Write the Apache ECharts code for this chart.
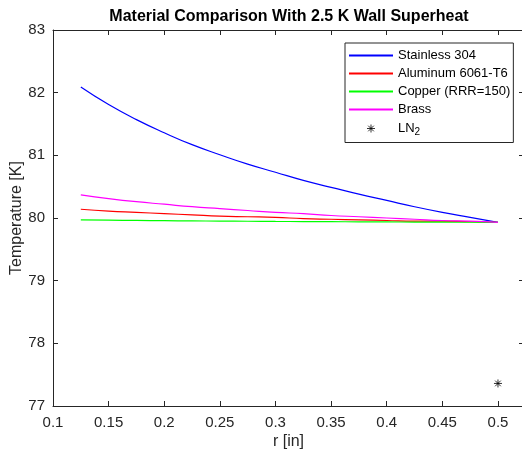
<!DOCTYPE html>
<html>
<head>
<meta charset="utf-8">
<script src="https://cdn.jsdelivr.net/npm/echarts@6/dist/echarts.min.js"></script>
<style>html,body{margin:0;padding:0;background:#fff}#c{width:522px;height:454px}</style>
</head>
<body>
<div id="c"></div>
<script>
const radius = [0.125,0.15,0.175,0.2,0.225,0.25,0.275,0.3,0.325,0.35,0.375,0.4,0.425,0.45,0.475,0.5];
const stainless = [82.09,81.81,81.57,81.36,81.17,81.01,80.86,80.73,80.60,80.49,80.38,80.28,80.18,80.09,80.01,79.93];
const aluminum  = [80.14,80.11,80.09,80.07,80.05,80.03,80.02,80.01,79.99,79.98,79.97,79.96,79.95,79.95,79.94,79.93];
const copper    = [79.970,79.966,79.961,79.957,79.954,79.951,79.948,79.945,79.943,79.941,79.939,79.937,79.935,79.933,79.932,79.93];
const brass     = [80.37,80.31,80.26,80.22,80.18,80.15,80.12,80.09,80.07,80.04,80.02,80.00,79.98,79.96,79.95,79.93];
const ln2Point  = [0.5, 77.36];
const seriesNames = ['Stainless 304','Aluminum 6061-T6','Copper (RRR=150)','Brass','LN2'];
const seriesColors = ['#0000ff','#ff0000','#00ff00','#ff00ff','#000000'];
const xTicks = [0.1,0.15,0.2,0.25,0.3,0.35,0.4,0.45,0.5];

const FONT = '"Liberation Sans", Arial, Helvetica, sans-serif';
const AX = '#262626';
const STAR = 'path://M-1.75,-1.75M1.75,1.75M0,-1L0,1M-1,0L1,0M-0.7,-0.7L0.7,0.7M-0.7,0.7L0.7,-0.7';
const pairs = vals => radius.map((r,i)=>[r, vals[i]]);
const lineSeries = (i, vals) => ({
  name:seriesNames[i], type:'line', data:pairs(vals), symbol:'circle', showSymbol:false, smooth:true,
  lineStyle:{color:seriesColors[i], width:1.2}, itemStyle:{color:seriesColors[i]}, z:2
});
const xFmt = v => xTicks.some(t=>Math.abs(t-v)<1e-9) ? String(+v.toFixed(2)) : '';
const common = {
  axisLine:{show:true, lineStyle:{color:AX, width:1}},
  axisTick:{show:true, inside:true, length:5, lineStyle:{color:AX}},
  splitLine:{show:false}
};
const legendData = seriesNames.map((n,i)=> i<4
  ? {name:n, itemStyle:{opacity:0}}
  : {name:n, icon:STAR, itemStyle:{color:'#000', borderColor:'#000', borderWidth:1}});
const chart = echarts.init(document.getElementById('c'), null, {renderer:'canvas'});
chart.setOption({
  animation:false,
  backgroundColor:'#fff',
  title:{text:'Material Comparison With 2.5 K Wall Superheat', left:284, top:4, textAlign:'center',
    textStyle:{fontFamily:FONT, fontSize:16, fontWeight:'bold', color:'#000'}},
  grid:{left:53, top:30, right:-2, bottom:48, containLabel:false, outerBoundsMode:'none'},
  legend:{
    orient:'vertical', left:345, top:43, itemWidth:44, itemHeight:14, itemGap:5,
    padding:[6,3,5,3], backgroundColor:'#fff', borderColor:AX, borderWidth:1,
    data:legendData,
    formatter: n => n==='LN2' ? 'LN{sub|2}' : n,
    textStyle:{fontFamily:FONT, fontSize:13, color:'#000',
      rich:{sub:{fontFamily:FONT, fontSize:10, color:'#000', padding:[8,0,0,0]}}}
  },
  xAxis:[
    Object.assign({type:'value', position:'bottom', min:0.1, max:0.5234, interval:0.05,
      name:'r [in]', nameLocation:'middle', nameGap:28, nameMoveOverlap:false,
      nameTextStyle:{fontFamily:FONT, fontSize:16, color:AX},
      axisLabel:{formatter:xFmt, fontFamily:FONT, fontSize:15, color:AX, margin:9}}, common),
    Object.assign({type:'value', position:'top', min:0.1, max:0.5234, interval:0.05,
      axisLabel:{show:false}}, common)
  ],
  yAxis:[
    Object.assign({type:'value', position:'left', min:77, max:83, interval:1,
      name:'Temperature [K]', nameLocation:'middle', nameGap:28, nameMoveOverlap:false,
      nameTextStyle:{fontFamily:FONT, fontSize:16, color:AX},
      axisLabel:{fontFamily:FONT, fontSize:15, color:AX, margin:8}}, common),
    Object.assign({type:'value', position:'right', min:77, max:83, interval:1,
      axisLabel:{show:false}}, common)
  ],
  series:[
    lineSeries(0, stainless),
    lineSeries(1, aluminum),
    lineSeries(2, copper),
    lineSeries(3, brass),
    {name:seriesNames[4], type:'scatter', data:[ln2Point],
     symbol:STAR, symbolSize:14, symbolKeepAspect:true,
     itemStyle:{color:'#000', borderColor:'#000', borderWidth:1}, z:3}
  ]
});
</script>
</body>
</html>
